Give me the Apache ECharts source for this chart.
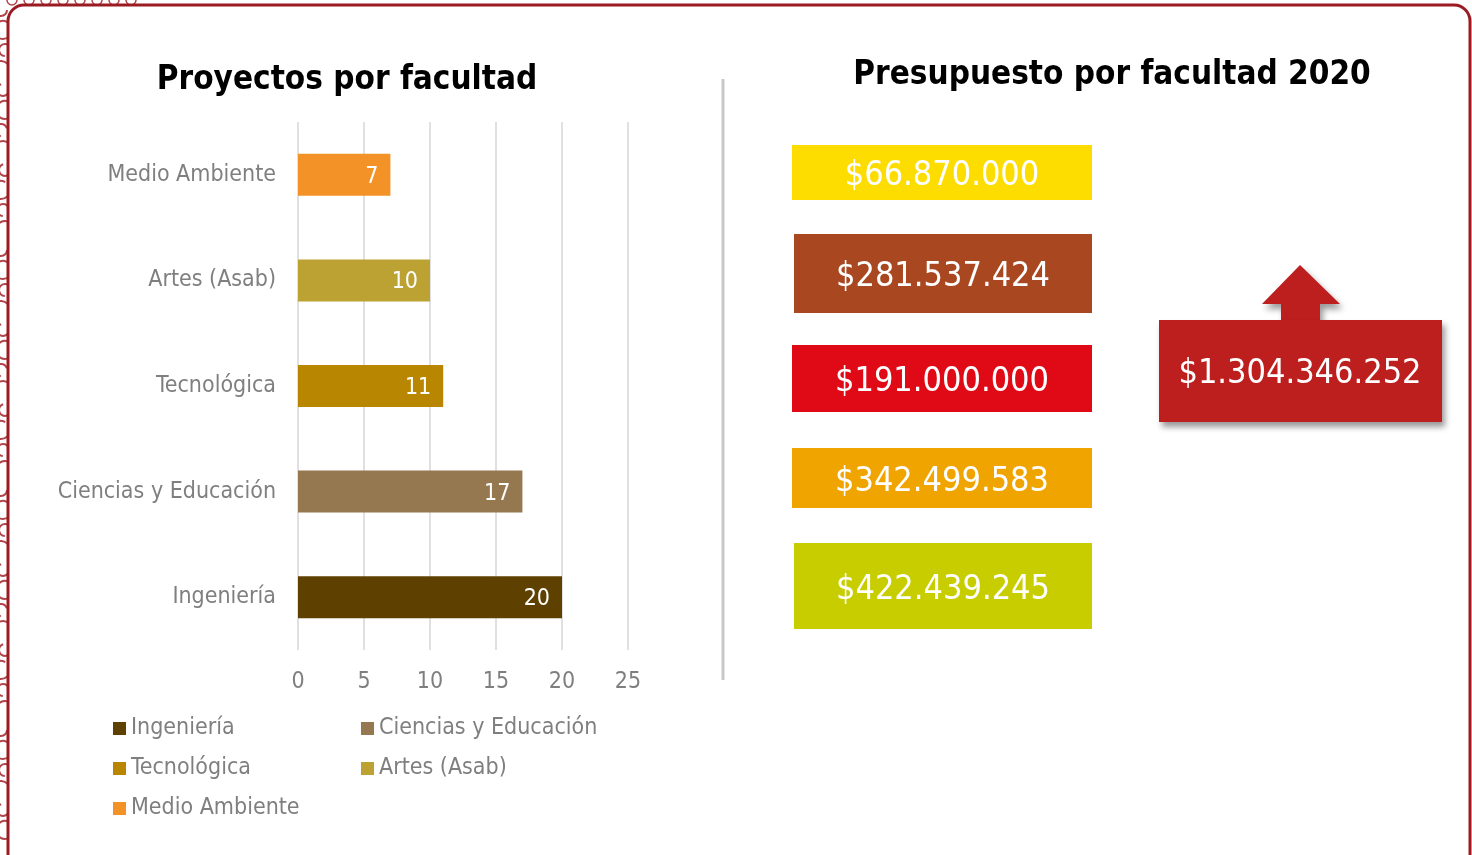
<!DOCTYPE html>
<html>
<head>
<meta charset="utf-8">
<title>Proyectos y presupuesto por facultad</title>
<script src="https://cdn.jsdelivr.net/npm/echarts@6/dist/echarts.min.js"></script>
<style>
  html, body { margin: 0; padding: 0; background: #fff; }
  #main { width: 1472px; height: 855px; }
</style>
</head>
<body>
<div id="main"></div>
<script>
// datos (de abajo hacia arriba en el eje)
var facultades = ['Ingeniería', 'Ciencias y Educación', 'Tecnológica', 'Artes (Asab)', 'Medio Ambiente'];
var proyectos = [20, 17, 11, 10, 7];
var coloresFacultad = ['#5E4100', '#957850', '#B88600', '#BBA233', '#F39327'];
var ejeTicks = [0, 5, 10, 15, 20, 25];

// presupuesto 2020 (de arriba hacia abajo en las cajas)
var presupuesto = [66870000, 281537424, 191000000, 342499583, 422439245];
var presupuestoTotal = 1304346252;
var coloresCaja = ['#FDDC00', '#A84720', '#E00A17', '#F0A400', '#C8CD00'];

// posicion de las cajas [x, y, ancho, alto]
var cajas = [
  [792, 145, 300, 55],
  [794, 234, 298, 79],
  [792, 345, 300, 67],
  [792, 448, 300, 60],
  [794, 543, 298, 86]
];

var FONT = "'DejaVu Sans Condensed', 'DejaVu Sans', sans-serif";

function pesos(n) {
  return '$' + String(n).replace(/\B(?=(\d{3})+(?!\d))/g, '.');
}

// una serie por facultad para que la leyenda tenga un item por barra
var series = facultades.map(function (f, i) {
  var d = facultades.map(function (_, j) { return j === i ? proyectos[i] : '-'; });
  return {
    name: f,
    type: 'bar',
    stack: 'total',
    barWidth: 42,
    data: d,
    itemStyle: { color: coloresFacultad[i] },
    label: {
      show: true,
      position: 'insideRight',
      distance: 12,
      color: '#fff',
      fontFamily: FONT,
      fontSize: 23,
      offset: [0, 2]
    }
  };
});

var graficos = [];

// marco
graficos.push({
  type: 'rect', z: -10, silent: true,
  shape: { x: 8, y: 5, width: 1462, height: 870, r: 16 },
  style: { fill: '#fff', stroke: '#9B1B22', lineWidth: 3 }
});
// adorno del borde izquierdo
for (var k = 0; k < 42; k++) {
  graficos.push({
    type: 'arc', z: -11, silent: true,
    shape: { cx: 1 + (k % 3) * 2, cy: 10 + k * 20, r: 6 + (k % 2) * 3, startAngle: (k % 4) * 0.8, endAngle: (k % 4) * 0.8 + Math.PI * 1.4 },
    style: { fill: null, stroke: '#A3242B', lineWidth: 2, opacity: 0.85 }
  });
}
for (var t = 0; t < 8; t++) {
  graficos.push({
    type: 'arc', z: -11, silent: true,
    shape: { cx: 12 + t * 17, cy: 0, r: 5, startAngle: 0, endAngle: Math.PI },
    style: { fill: null, stroke: '#A3242B', lineWidth: 1.5, opacity: 0.85 }
  });
}

// separador
graficos.push({
  type: 'line', silent: true,
  shape: { x1: 723, y1: 79, x2: 723, y2: 680 },
  style: { stroke: '#C8C8C8', lineWidth: 3 }
});

// cajas de presupuesto
presupuesto.forEach(function (v, i) {
  var c = cajas[i];
  graficos.push({
    type: 'rect',
    shape: { x: c[0], y: c[1], width: c[2], height: c[3] },
    style: { fill: coloresCaja[i] }
  });
  graficos.push({
    type: 'text',
    x: c[0] + c[2] / 2, y: c[1] + c[3] / 2 + 4,
    style: {
      text: pesos(v), fill: '#fff', font: '34px ' + FONT,
      align: 'center', verticalAlign: 'middle'
    }
  });
});

// flecha con total
graficos.push({
  type: 'polygon',
  shape: { points: [[1262, 304], [1300, 265], [1340, 304], [1320, 304], [1320, 322], [1281, 322], [1281, 304]] },
  style: { fill: '#BD1E1E', shadowBlur: 6, shadowOffsetX: 3, shadowOffsetY: 5, shadowColor: 'rgba(0,0,0,0.4)' }
});
graficos.push({
  type: 'rect',
  shape: { x: 1159, y: 320, width: 283, height: 102 },
  style: { fill: '#BD1E1E', shadowBlur: 6, shadowOffsetX: 3, shadowOffsetY: 5, shadowColor: 'rgba(0,0,0,0.4)' }
});
graficos.push({
  type: 'text', x: 1300, y: 374,
  style: {
    text: pesos(presupuestoTotal), fill: '#fff', font: '34px ' + FONT,
    align: 'center', verticalAlign: 'middle'
  }
});

var chart = echarts.init(document.getElementById('main'));
chart.setOption({
  backgroundColor: '#fff',
  animation: false,
  textStyle: { fontFamily: FONT },
  title: [
    {
      text: 'Proyectos por facultad', left: 342, top: 59, textAlign: 'center',
      textStyle: { fontFamily: FONT, fontSize: 33, fontWeight: 'bold', color: '#000' }
    },
    {
      text: 'Presupuesto por facultad 2020', left: 1107, top: 54, textAlign: 'center',
      textStyle: { fontFamily: FONT, fontSize: 33, fontWeight: 'bold', color: '#000' }
    }
  ],
  legend: [
    {
      left: 108, top: 712, orient: 'vertical', itemGap: 17,
      itemWidth: 13, itemHeight: 13, icon: 'rect',
      data: [facultades[0], facultades[2], facultades[4]],
      textStyle: { color: '#7F7F7F', fontSize: 23, fontFamily: FONT }
    },
    {
      left: 356, top: 712, orient: 'vertical', itemGap: 17,
      itemWidth: 13, itemHeight: 13, icon: 'rect',
      data: [facultades[1], facultades[3]],
      textStyle: { color: '#7F7F7F', fontSize: 23, fontFamily: FONT }
    }
  ],
  grid: { left: 298, top: 122, width: 330, height: 528, containLabel: false },
  xAxis: {
    type: 'value', min: ejeTicks[0], max: ejeTicks[ejeTicks.length - 1], interval: 5,
    axisLine: { show: false }, axisTick: { show: false },
    splitLine: { lineStyle: { color: '#E0E0E0', width: 2 } },
    axisLabel: { color: '#7F7F7F', fontSize: 23, fontFamily: FONT, margin: 21 }
  },
  yAxis: {
    type: 'category', data: facultades,
    axisLine: { show: false }, axisTick: { show: false },
    axisLabel: { color: '#7F7F7F', fontSize: 23, fontFamily: FONT, margin: 22, padding: [8, 0, 0, 0] }
  },
  series: series,
  graphic: graficos
});
</script>
</body>
</html>
